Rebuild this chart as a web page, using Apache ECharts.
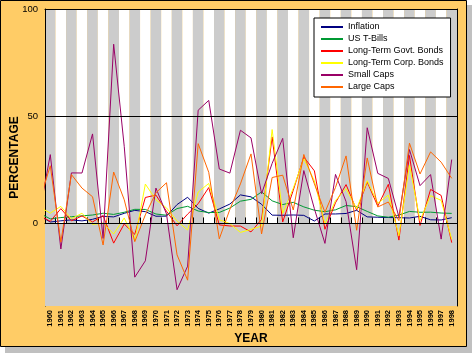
<!DOCTYPE html>
<html>
<head>
<meta charset="utf-8">
<script src="https://cdn.jsdelivr.net/npm/echarts@6/dist/echarts.min.js"></script>
<style>
  html, body { margin: 0; padding: 0; background: #fff; }
  #chart { width: 472px; height: 353px; }
</style>
</head>
<body>
<div id="chart"></div>
<script>
// 1959 is only a lead-in point, it falls left of the plot and gets clipped
var years = [1959, 1960, 1961, 1962, 1963, 1964, 1965, 1966, 1967, 1968, 1969,
  1970, 1971, 1972, 1973, 1974, 1975, 1976, 1977, 1978, 1979,
  1980, 1981, 1982, 1983, 1984, 1985, 1986, 1987, 1988, 1989,
  1990, 1991, 1992, 1993, 1994, 1995, 1996, 1997, 1998]
var yearLabels = [1960, 1961, 1962, 1963, 1964, 1965, 1966, 1967, 1968, 1969,
  1970, 1971, 1972, 1973, 1974, 1975, 1976, 1977, 1978, 1979,
  1980, 1981, 1982, 1983, 1984, 1985, 1986, 1987, 1988, 1989,
  1990, 1991, 1992, 1993, 1994, 1995, 1996, 1997, 1998]
var yTicks = [0, 50, 100]

var inflation = [3.5, 0.67, 1.22, 1.65, 1.19, 1.92, 3.35, 3.04, 4.72, 6.11, 5.49,
  3.36, 3.41, 8.80, 12.20, 7.01, 4.81, 6.77, 9.03, 13.31, 12.40,
  8.94, 3.87, 3.80, 3.95, 3.77, 1.13, 4.41, 4.42, 4.65, 6.11,
  3.06, 2.90, 2.75, 2.67, 2.54, 3.32, 1.70, 1.61, 2.68]
var tBills = [4.7, 2.13, 2.73, 3.12, 3.54, 3.93, 4.76, 4.21, 5.21, 6.58, 6.53,
  4.39, 3.84, 6.93, 8.00, 5.80, 5.08, 5.12, 7.18, 10.38, 11.24,
  14.71, 10.54, 8.80, 9.85, 7.72, 6.16, 5.47, 6.35, 8.37, 7.81,
  5.60, 3.51, 2.90, 3.90, 5.60, 5.21, 5.26, 4.86, 4.68]
var govtBonds = [3.6, 0.97, 6.89, 1.21, 3.51, 0.71, 3.65, -9.18, -0.26, -5.07, 12.11,
  13.23, 5.69, -1.11, 4.35, 9.20, 16.75, -0.69, -1.18, -1.23, -3.95,
  1.86, 40.36, 0.65, 15.48, 30.97, 24.53, -2.71, 9.67, 18.11, 6.18,
  19.30, 8.05, 18.24, -7.77, 31.67, -0.93, 15.85, 13.06, -8.96]
var corpBonds = [7.6, 4.82, 7.95, 2.19, 4.77, -0.46, 0.20, -4.95, 2.57, -8.09, 18.37,
  11.01, 7.26, 1.14, -3.06, 14.64, 18.65, 1.71, -0.07, -4.18, -2.76,
  -1.24, 43.79, 4.70, 16.39, 30.09, 19.85, -0.27, 10.70, 16.23, 6.78,
  19.89, 9.39, 13.19, -5.76, 27.20, 1.40, 12.95, 10.76, -7.45]
var smallCaps = [5.5, 32.09, -11.90, 23.57, 23.52, 41.75, -7.01, 83.57, 35.97, -25.05, -17.43,
  16.50, 4.43, -30.90, -19.95, 52.82, 57.38, 25.38, 23.46, 43.46, 39.88,
  13.88, 28.01, 39.67, -6.67, 24.66, 6.85, -9.30, 22.87, 10.18, -21.56,
  44.63, 23.35, 20.98, 3.11, 34.46, 17.62, 22.78, -7.31, 29.79]
var largeCaps = [10.7, 26.89, -8.73, 22.80, 16.48, 12.45, -10.06, 23.98, 11.06, -8.50, 4.01,
  14.31, 18.98, -14.66, -26.47, 37.20, 23.84, -7.18, 6.56, 18.44, 32.42,
  -4.91, 21.41, 22.51, 6.27, 32.16, 18.47, 5.23, 16.81, 31.49, -3.17,
  30.55, 7.67, 9.99, 1.31, 37.43, 23.07, 33.36, 28.58, 21.04]

var Y_MIN = -38.5
var FONT = 'Liberation Sans, Arial, sans-serif'

function pairs(arr) {
  return years.map(function(y, i) { return [y, arr[i]] })
}

function line(name, color, arr) {
  return {
    name: name,
    type: 'line',
    data: pairs(arr),
    showSymbol: false,
    symbol: 'none',
    lineStyle: { width: 1, color: color },
    itemStyle: { color: color },
    animation: false
  }
}

var series = [
  line('Inflation', '#000080', inflation),
  line('US T-Bills', '#009933', tBills),
  line('Long-Term Govt. Bonds', '#ff0000', govtBonds),
  line('Long-Term Corp. Bonds', '#ffff00', corpBonds),
  line('Small Caps', '#990066', smallCaps),
  line('Large Caps', '#ff6600', largeCaps)
]

// grey below zero and the two black reference lines
series[0].markArea = {
  silent: true,
  itemStyle: { color: '#cccccc' },
  data: [[{ yAxis: Y_MIN }, { yAxis: 0 }]]
}
series[0].markLine = {
  silent: true,
  symbol: 'none',
  label: { show: false },
  lineStyle: { color: '#000', type: 'solid', width: 1 },
  data: [{ yAxis: 0 }, { yAxis: 50 }]
}

var chart = echarts.init(document.getElementById('chart'))
chart.setOption({
  backgroundColor: '#fff',
  animation: false,
  graphic: [
    { type: 'rect', z: -20, shape: { x: 5, y: 5, width: 467, height: 348 }, style: { fill: '#c0c0c0' } },
    { type: 'rect', z: -19, shape: { x: 0.5, y: 0.5, width: 466, height: 346 }, style: { fill: '#ffcc66', stroke: '#000', lineWidth: 1 } }
  ],
  grid: { left: 45, top: 9, width: 412, height: 297, containLabel: false, outerBoundsMode: 'none' },
  legend: {
    orient: 'vertical',
    left: 314,
    top: 18,
    padding: [3, 7, 4, 7],
    itemGap: 0,
    itemWidth: 22,
    itemHeight: 2,
    icon: 'rect',
    backgroundColor: '#fff',
    borderColor: '#000',
    borderWidth: 1,
    textStyle: { fontFamily: FONT, fontSize: 9, color: '#000', lineHeight: 12 }
  },
  xAxis: [{
    type: 'value',
    min: 1959.5,
    max: 1998.5,
    interval: 1,
    name: 'YEAR',
    nameLocation: 'middle',
    nameGap: 27,
    nameMoveOverlap: false,
    nameTextStyle: { fontFamily: FONT, fontSize: 12, fontWeight: 'bold', color: '#000' },
    axisLine: { show: true, lineStyle: { color: '#000', width: 1 } },
    axisTick: { show: true, inside: true, length: 6, lineStyle: { color: '#000' } },
    axisLabel: {
      customValues: yearLabels,
      rotate: 90,
      margin: 4,
      fontFamily: FONT,
      fontSize: 7.5,
      fontWeight: 'bold',
      color: '#000',
      formatter: function(v) { return String(v) }
    },
    splitLine: { show: false },
    splitArea: { show: true, areaStyle: { color: ['#cccccc', '#ffffff'] } }
  }, {
    type: 'value',
    position: 'top',
    min: 1959.5,
    max: 1998.5,
    axisLine: { show: true, onZero: false, lineStyle: { color: '#000', width: 1 } },
    axisTick: { show: false },
    axisLabel: { show: false },
    splitLine: { show: false }
  }],
  yAxis: [{
    type: 'value',
    min: Y_MIN,
    max: 100,
    name: 'PERCENTAGE',
    nameLocation: 'middle',
    nameGap: 24,
    nameMoveOverlap: false,
    nameTextStyle: { fontFamily: FONT, fontSize: 12, fontWeight: 'bold', color: '#000' },
    axisLine: { show: true, onZero: false, lineStyle: { color: '#000', width: 1 } },
    axisTick: { show: false },
    axisLabel: {
      customValues: yTicks,
      margin: 7,
      fontFamily: FONT,
      fontSize: 9.5,
      color: '#000'
    },
    splitLine: { show: false }
  }, {
    type: 'value',
    position: 'right',
    min: Y_MIN,
    max: 100,
    axisLine: { show: true, onZero: false, lineStyle: { color: '#000', width: 1 } },
    axisTick: { show: false },
    axisLabel: { show: false },
    splitLine: { show: false }
  }],
  series: series
})
</script>
</body>
</html>
